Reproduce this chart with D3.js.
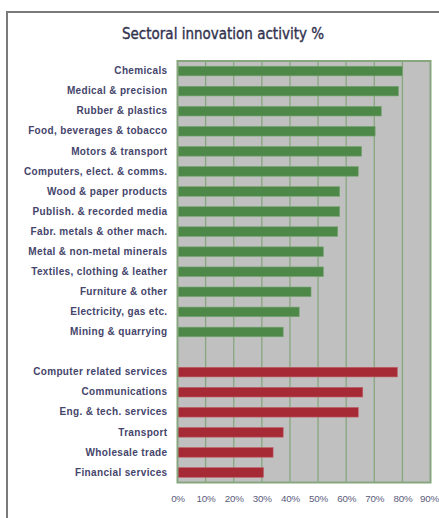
<!DOCTYPE html>
<html>
<head>
<meta charset="utf-8">
<script src="https://cdn.jsdelivr.net/npm/d3@7"></script>
<style>
  body { margin: 0; background: #fff; }
  svg { display: block; }
</style>
</head>
<body>
<svg id="chart"></svg>
<script>
// данные: обрабатывающие отрасли (зелёные) и услуги (красные)
const industries = ["Chemicals", "Medical & precision", "Rubber & plastics", "Food, beverages & tobacco",
  "Motors & transport", "Computers, elect. & comms.", "Wood & paper products", "Publish. & recorded media",
  "Fabr. metals & other mach.", "Metal & non-metal minerals", "Textiles, clothing & leather",
  "Furniture & other", "Electricity, gas etc.", "Mining & quarrying"];
const industryValues = [0.80, 0.786, 0.725, 0.703, 0.655, 0.643, 0.577, 0.577, 0.570, 0.519, 0.519, 0.475, 0.433, 0.376];

const services = ["Computer related services", "Communications", "Eng. & tech. services",
  "Transport", "Wholesale trade", "Financial services"];
const serviceValues = [0.782, 0.659, 0.643, 0.376, 0.340, 0.306];

const xTicks = [0, 0.1, 0.2, 0.3, 0.4, 0.5, 0.6, 0.7, 0.8, 0.9];
const title = "Sectoral innovation activity %";

const width = 439, height = 518;
const plot = {left: 177.5, right: 430.5, top: 61, bottom: 482.5};

const svg = d3.select("#chart").attr("width", width).attr("height", height);

// рамка вокруг всей диаграммы
svg.append("path")
  .attr("d", `M7,${height + 5} V12 H${width + 5}`)
  .attr("fill", "none").attr("stroke", "#7a7a7a").attr("stroke-width", 2);

svg.append("text")
  .attr("x", 223).attr("y", 39)
  .attr("text-anchor", "middle")
  .style("font-family", "'DejaVu Sans Condensed', 'DejaVu Sans', sans-serif")
  .style("font-size", "15px")
  .style("stroke", "#33334f").style("stroke-width", 0.35)
  .style("fill", "#33334f")
  .text(title);

// строки: отрасли, пустая строка-разделитель, услуги
const rows = industries.map((d, i) => ({label: d, value: industryValues[i], kind: "ind"}))
  .concat([{label: " ", value: null, kind: "gap"}])
  .concat(services.map((d, i) => ({label: d, value: serviceValues[i], kind: "srv"})));

const scaleX = d3.scaleLinear().domain([0, 0.9]).range([plot.left, plot.right]);
const scaleY = d3.scaleBand()
  .domain(rows.map(d => d.label))
  .range([plot.top, plot.bottom])
  .paddingInner(0.52).paddingOuter(0.26);

svg.append("rect")
  .attr("x", plot.left).attr("y", plot.top)
  .attr("width", plot.right - plot.left).attr("height", plot.bottom - plot.top)
  .attr("fill", "#c0c0c0");

// вертикальные линии сетки
svg.append("g").selectAll("line")
  .data(xTicks.slice(1, -1))
  .enter().append("line")
  .attr("x1", d => scaleX(d)).attr("x2", d => scaleX(d))
  .attr("y1", plot.top).attr("y2", plot.bottom)
  .attr("stroke", "#86a67e").attr("stroke-width", 1.3);

svg.append("g").selectAll("rect")
  .data(rows.filter(d => d.value !== null))
  .enter().append("rect")
  .attr("x", scaleX(0))
  .attr("y", d => scaleY(d.label))
  .attr("width", d => scaleX(d.value) - scaleX(0))
  .attr("height", scaleY.bandwidth())
  .attr("fill", d => d.kind === "ind" ? "#4e8849" : "#a62a36")
  .attr("stroke", d => d.kind === "ind" ? "#77a572" : "#c06068")
  .attr("stroke-width", 0.6);

svg.append("rect")
  .attr("x", plot.left).attr("y", plot.top)
  .attr("width", plot.right - plot.left).attr("height", plot.bottom - plot.top)
  .attr("fill", "none").attr("stroke", "#86a67e").attr("stroke-width", 2);

// подписи категорий
const axisY = d3.axisLeft(scaleY).tickSize(0).tickPadding(10);
const gy = svg.append("g").attr("transform", `translate(${plot.left},0)`).call(axisY);
gy.select(".domain").remove();
gy.selectAll("text")
  .style("font-family", "'Liberation Sans', Arial, sans-serif")
  .style("font-size", "10px")
  .style("font-weight", "bold")
  .style("letter-spacing", "0.35px")
  .style("fill", "#45456b");

// подписи оси X
const axisX = d3.axisBottom(scaleX).tickValues(xTicks).tickFormat(d3.format(".0%")).tickSize(0).tickPadding(13);
const gx = svg.append("g").attr("transform", `translate(0,${plot.bottom})`).call(axisX);
gx.select(".domain").remove();
gx.selectAll("text")
  .style("font-family", "'Liberation Sans', Arial, sans-serif")
  .style("font-size", "9.8px")
  .style("letter-spacing", "-0.2px")
  .style("fill", "#5c5c7c");
// последняя подпись упирается в край, сдвигаем чуть влево
gx.selectAll(".tick:last-of-type text").attr("dx", "-1.5");
</script>
</body>
</html>
